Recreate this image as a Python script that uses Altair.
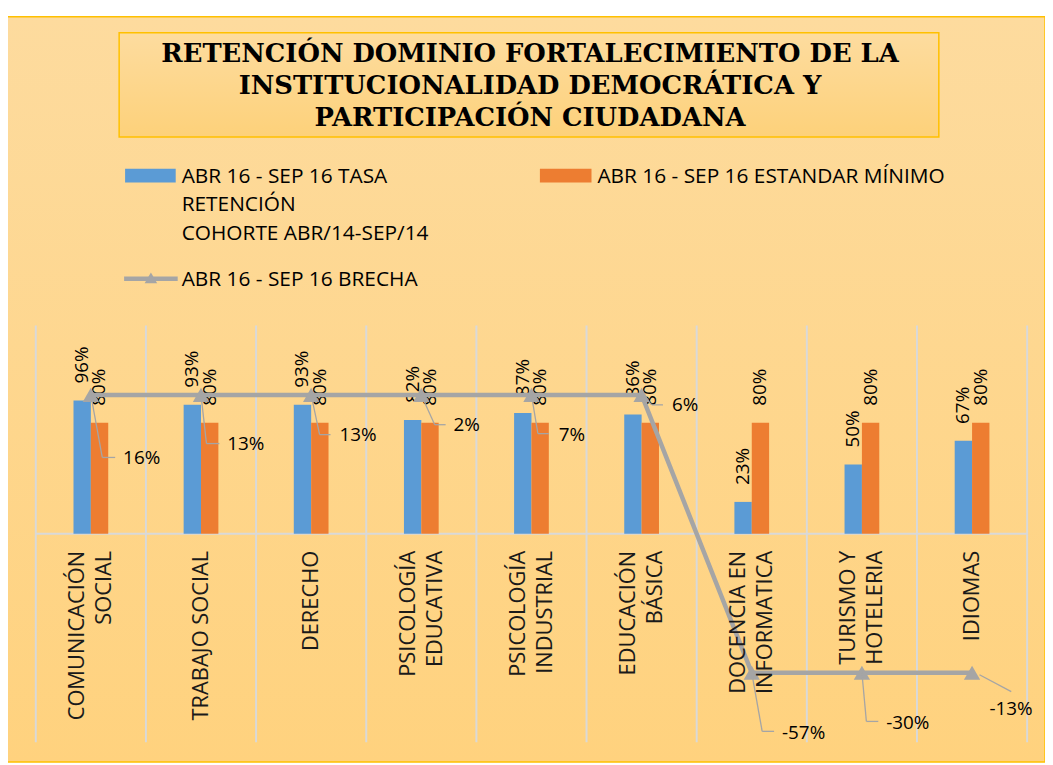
import altair as alt
import pandas as pd

# ---------------- data ----------------
CATS = ["COMUNICACIÓN SOCIAL", "TRABAJO SOCIAL", "DERECHO", "PSICOLOGÍA EDUCATIVA",
        "PSICOLOGÍA INDUSTRIAL", "EDUCACIÓN BÁSICA", "DOCENCIA EN INFORMATICA",
        "TURISMO Y HOTELERIA", "IDIOMAS"]
CAT_LABELS = ["COMUNICACIÓN\nSOCIAL", "TRABAJO SOCIAL", "DERECHO", "PSICOLOGÍA\nEDUCATIVA",
              "PSICOLOGÍA\nINDUSTRIAL", "EDUCACIÓN\nBÁSICA", "DOCENCIA EN\nINFORMATICA",
              "TURISMO Y\nHOTELERIA", "IDIOMAS"]
SERIES = ["ABR 16 - SEP 16 TASA RETENCIÓN COHORTE ABR/14-SEP/14",
          "ABR 16 - SEP 16 ESTANDAR MÍNIMO",
          "ABR 16 - SEP 16 BRECHA"]
SERIES_LEGEND = ["ABR 16 - SEP 16 TASA\nRETENCIÓN\nCOHORTE ABR/14-SEP/14",
                 "ABR 16 - SEP 16 ESTANDAR MÍNIMO",
                 "ABR 16 - SEP 16 BRECHA"]
TASA = [0.96, 0.93, 0.93, 0.82, 0.87, 0.86, 0.23, 0.50, 0.67]
ESTANDAR = [0.80, 0.80, 0.80, 0.80, 0.80, 0.80, 0.80, 0.80, 0.80]
BRECHA = [0.16, 0.13, 0.13, 0.02, 0.07, 0.06, -0.57, -0.30, -0.13]
TITLE = ["RETENCIÓN DOMINIO FORTALECIMIENTO DE LA",
         "INSTITUCIONALIDAD DEMOCRÁTICA Y",
         "PARTICIPACIÓN CIUDADANA"]


def pct(v):
    return f"{round(v * 100)}%"


bar_df = pd.DataFrame(
    [{"cat": c, "series": SERIES[0], "value": v, "lab": pct(v)} for c, v in zip(CATS, TASA)]
    + [{"cat": c, "series": SERIES[1], "value": v, "lab": pct(v)} for c, v in zip(CATS, ESTANDAR)]
)
b_df = pd.DataFrame({"cat": CATS, "idx": list(range(len(CATS))), "brecha": BRECHA,
                     "lab": [pct(v) for v in BRECHA]})
cat_df = pd.DataFrame({"cat": CATS, "lab": CAT_LABELS,
                       "nlines": [lab.count("\n") + 1 for lab in CAT_LABELS]})
one = pd.DataFrame({"k": [0]})

# ---------------- styles ----------------
BLUE = "#5B9BD5"
ORANGE = "#ED7D31"
GRAY = "#A5A5A5"
GRID = "#D9D9D9"
GOLD = "#FFC000"
F = "Open Sans"
W, H = 999, 420
BAND = W / len(CATS)
CAT_LH = 27

XS = alt.Scale(domain=CATS, paddingInner=0, paddingOuter=0)
YP = alt.Scale(domain=[-1.5, 1.5], nice=False, zero=False)
YB = alt.Scale(domain=[-0.01, 0.01], range=[350, 70], clamp=True, nice=False, zero=False)
XO = alt.Scale(domain=SERIES[:2], paddingInner=0, paddingOuter=0,
               range=[BAND / 2 - 17.5, BAND / 2 + 17.5])

X = alt.X("cat:N", scale=XS, axis=None)
XOFF = alt.XOffset("series:N", scale=XO)
YBAR = alt.Y("value:Q", scale=YP, axis=None)
YBR = alt.Y("brecha:Q", scale=YB, axis=None)

layers = []

# background panel with gradient
layers.append(alt.Chart(one).mark_rect(
    fill={"gradient": "linear", "x1": 0, "y1": 0, "x2": 0, "y2": 1,
          "stops": [{"offset": 0, "color": "#FDDB9E"}, {"offset": 1, "color": "#FFD27E"}]},
    stroke=GOLD, strokeWidth=1.5
).encode(x=alt.value(-30), x2=alt.value(W + 18), y=alt.value(-311), y2=alt.value(H + 20)))

# title box
layers.append(alt.Chart(one).mark_rect(
    fill={"gradient": "linear", "x1": 0, "y1": 0, "x2": 0, "y2": 1,
          "stops": [{"offset": 0, "color": "#FDDC9F"}, {"offset": 1, "color": "#FDD17A"}]},
    stroke=GOLD, strokeWidth=1.5
).encode(x=alt.value(84), x2=alt.value(910), y=alt.value(-295), y2=alt.value(-190)))

# title text
layers.append(alt.Chart(pd.DataFrame({"t": ["\n".join(TITLE)]})).mark_text(
    font="DejaVu Serif", fontWeight="bold", fontSize=26, align="center", baseline="top",
    lineBreak="\n", lineHeight=32, color="#000000"
).encode(x=alt.value(498), y=alt.value(-286), text="t:N"))

# legend
layers.append(alt.Chart(one).mark_rect(color=BLUE).encode(
    x=alt.value(90), x2=alt.value(141), y=alt.value(-158), y2=alt.value(-144)))
layers.append(alt.Chart(pd.DataFrame({"t": [SERIES_LEGEND[0]]})).mark_text(
    font=F, fontSize=21, align="left", baseline="top", lineBreak="\n", lineHeight=29, color="#000000"
).encode(x=alt.value(147), y=alt.value(-161), text="t:N"))
layers.append(alt.Chart(one).mark_rect(color=ORANGE).encode(
    x=alt.value(508), x2=alt.value(560), y=alt.value(-158), y2=alt.value(-144)))
layers.append(alt.Chart(pd.DataFrame({"t": [SERIES_LEGEND[1]]})).mark_text(
    font=F, fontSize=21, align="left", baseline="middle", color="#000000"
).encode(x=alt.value(566), y=alt.value(-150), text="t:N"))
layers.append(alt.Chart(one).mark_rule(color=GRAY, strokeWidth=4.5).encode(
    x=alt.value(89), x2=alt.value(143), y=alt.value(-47)))
layers.append(alt.Chart(one).mark_point(shape="triangle-up", filled=True, size=160, color=GRAY, opacity=1).encode(
    x=alt.value(116), y=alt.value(-48)))
layers.append(alt.Chart(pd.DataFrame({"t": [SERIES_LEGEND[2]]})).mark_text(
    font=F, fontSize=21, align="left", baseline="middle", color="#000000"
).encode(x=alt.value(147), y=alt.value(-46), text="t:N"))

# vertical category separators
layers.append(alt.Chart(cat_df).mark_rule(color=GRID, strokeWidth=2).encode(
    x=alt.X("cat:N", scale=XS, axis=None, bandPosition=0), y=alt.value(0), y2=alt.value(H)))
layers.append(alt.Chart(one).mark_rule(color=GRID, strokeWidth=2).encode(
    x=alt.value(W), y=alt.value(0), y2=alt.value(H)))
# zero line
layers.append(alt.Chart(one).mark_rule(color=GRID, strokeWidth=2).encode(
    x=alt.value(0), x2=alt.value(W), y=alt.YDatum(0, type="quantitative", scale=YP, axis=None)))

# bars
layers.append(alt.Chart(bar_df).mark_bar().encode(
    x=X, xOffset=XOFF, y=YBAR,
    color=alt.Color("series:N", scale=alt.Scale(domain=SERIES[:2], range=[BLUE, ORANGE]), legend=None)))
layers.append(alt.Chart(bar_df).mark_text(
    angle=270, align="left", baseline="middle", dx=17, font=F, fontSize=19, color="#000000"
).encode(x=X, xOffset=XOFF, y=YBAR, text="lab:N"))

# brecha line (secondary axis, clamped as in the original)
layers.append(alt.Chart(b_df).mark_line(color=GRAY, strokeWidth=4.5).encode(
    x=X, y=YBR, order=alt.Order("idx:Q")))
layers.append(alt.Chart(b_df).mark_point(shape="triangle-up", filled=True, size=270, color=GRAY, opacity=1).encode(
    x=X, y=YBR))

# leader lines + brecha labels (label offsets, px)
LEADERS = [
    [(0, 0, 11.5, 63), (11.5, 63, 24.5, 63)],
    [(0, 0, 5.5, 49), (5.5, 49, 18.5, 49)],
    [(0, 0, 8.5, 40), (8.5, 40, 19.5, 40)],
    [(0, 0, 13.5, 30), (13.5, 30, 24.5, 30)],
    [(0, 0, 6.5, 39), (6.5, 39, 17.5, 39)],
    [(0, 0, 10.5, 10), (10.5, 10, 21.5, 10)],
    [(0, 0, 10.5, 59), (10.5, 59, 22.5, 59)],
    [(0, 0, 4.5, 49), (4.5, 49, 16.5, 49)],
    [(7.5, 2, 39.5, 19)],
]
LABEL_OFF = [(32.5, 64), (26.5, 49), (28.5, 40), (32.5, 30), (27.5, 40),
             (30.5, 10), (30.5, 61), (24.5, 51), (17.5, 37)]

for i in range(len(CATS)):
    base = alt.Chart(b_df).transform_filter(alt.datum.idx == i)
    for (x0, y0, x1, y1) in LEADERS[i]:
        layers.append(base.mark_rule(color=GRAY, strokeWidth=1.3,
                                     xOffset=x0, yOffset=y0, x2Offset=x1, y2Offset=y1).encode(
            x=X, x2=alt.X2("cat"), y=YBR, y2=alt.Y2("brecha")))
    dx, dy = LABEL_OFF[i]
    layers.append(base.mark_text(align="left", baseline="middle", dx=dx, dy=dy,
                                 font=F, fontSize=19, color="#000000").encode(
        x=X, y=YBR, text="lab:N"))

# category labels (one layer per line count so each block is centred on its category)
for n in sorted(set(cat_df["nlines"])):
    layers.append(alt.Chart(cat_df).transform_filter(alt.datum.nlines == n).mark_text(
        angle=270, align="right", baseline="middle", dx=-17, dy=-(n - 1) * CAT_LH / 2,
        lineBreak="\n", lineHeight=CAT_LH, font=F, fontSize=22, color="#1A1A1A"
    ).encode(x=X, y=alt.YDatum(0, type="quantitative", scale=YP, axis=None), text="lab:N"))

chart = alt.layer(*layers).resolve_scale(y="independent").properties(
    width=W, height=H, background="white",
    padding={"left": 28, "top": 317, "right": 18, "bottom": 20},
    autosize=alt.AutoSizeParams(type="none"),
).configure_view(stroke=None)

chart.save("out.html", embed_options={"renderer": "svg", "actions": False})
